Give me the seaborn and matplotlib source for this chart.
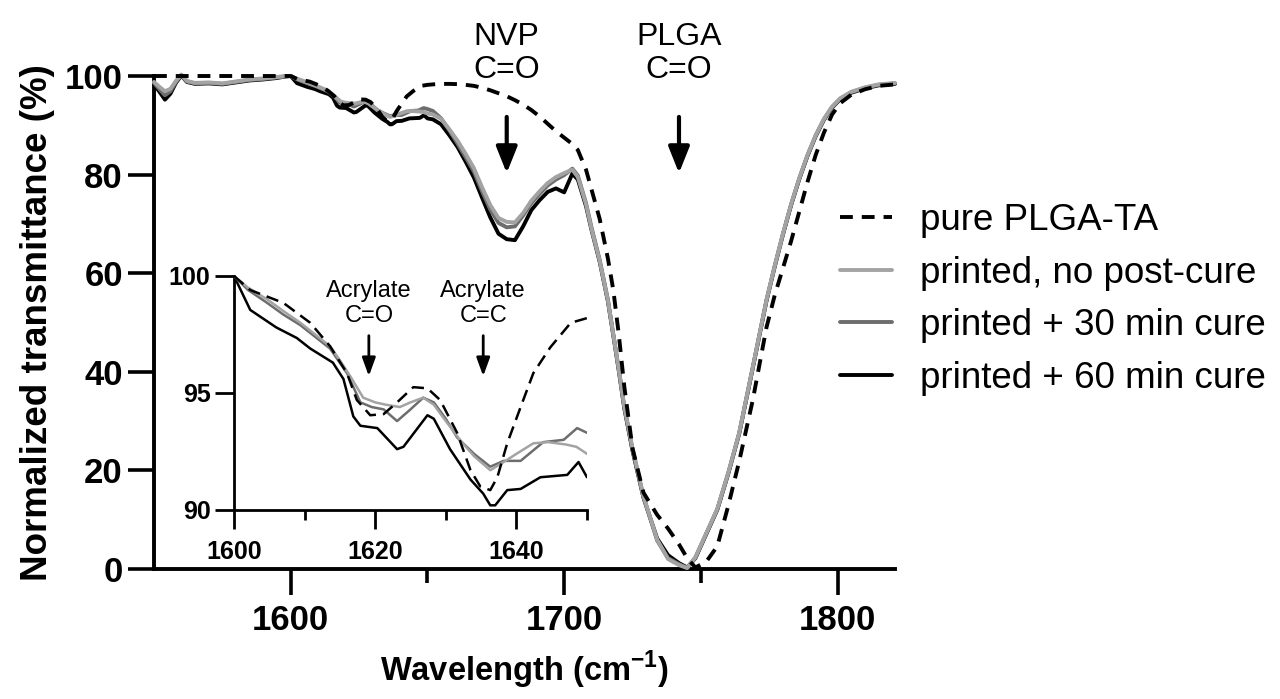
import matplotlib
matplotlib.use("Agg")
import matplotlib.pyplot as plt
import seaborn as sns
from matplotlib.patches import ArrowStyle

# ---------------- data ----------------
# shared wavenumber grid outside the inset range
wn_pre = [1550, 1552, 1554, 1556, 1558, 1560, 1562, 1565, 1570, 1575, 1580, 1585, 1590, 1595, 1598]
wn_post = [1652, 1655, 1658, 1661, 1664, 1667, 1670, 1673, 1676, 1679,
           1682, 1685, 1688, 1691, 1694, 1697, 1700, 1703, 1705, 1708,
           1710, 1713, 1716, 1718, 1720, 1722, 1725, 1729, 1734, 1738,
           1742, 1745, 1748, 1752, 1756, 1760, 1764, 1769, 1774, 1777,
           1780, 1783, 1786, 1789, 1792, 1795, 1798, 1801, 1805, 1810,
           1815, 1821]

# pure PLGA-TA (dashed)
pure_pre = [100, 100, 100, 100, 100, 100, 100, 100, 100, 100, 100, 100, 100, 100, 100]
pure_wn_in = [1600, 1602.3, 1607, 1610.8, 1613.6, 1616, 1617.4, 1619.3, 1621.2, 1623.1, 1625.4, 1627.4,
              1629.2, 1631.6, 1633.5, 1634.9, 1636.3, 1637.3, 1638.7, 1640.6, 1642.4, 1644.8, 1647.7, 1650]
pure_in = [100, 99.4, 98.85, 98.0, 97.0, 95.85, 94.7, 94.05, 94.1, 94.6, 95.25, 95.2,
           94.7, 93.3, 91.7, 91.0, 90.85, 91.4, 92.85, 94.4, 95.85, 96.95, 98.0, 98.2]
pure_post = [98.3, 98.4, 98.4, 98.35, 98.2, 98.0, 97.6, 97.1, 96.5, 95.9,
             95.1, 94.2, 93.1, 91.8, 90.3, 88.8, 87.5, 86.2, 85.0, 81.0,
             77.0, 71.0, 63.0, 56.5, 47.5, 37.0, 24.5, 15.5, 11.0, 8.2,
             5.0, 2.2, 0.3, 1.5, 4.6, 12.8, 21.8, 34.3, 49.0, 55.5,
             61.0, 66.5, 72.5, 78.5, 84.0, 88.5, 92.2, 94.5, 96.2, 97.3,
             98.0, 98.3]

# printed, no post-cure (light grey)
nocure_pre = [98.8, 97.8, 96.9, 97.4, 99.0, 100.3, 99.0, 98.6, 98.7, 98.5, 98.9, 99.3, 99.5, 99.8, 100.0]
nocure_wn_in = [1600, 1602, 1604.7, 1607, 1609.4, 1611.5, 1613.6, 1615, 1616.5, 1618.3, 1620, 1621.5, 1623.5,
                1625, 1626.8, 1628.3, 1630, 1632, 1634, 1636.3, 1638.2, 1640, 1642.4, 1644.5, 1647, 1648.5, 1650]
nocure_in = [100, 99.5, 99.0, 98.5, 98.0, 97.5, 97.0, 96.4, 95.7, 94.8, 94.6, 94.5, 94.4,
             94.6, 94.8, 94.5, 93.8, 93.0, 92.3, 91.7, 92.05, 92.4, 92.85, 92.9, 92.8, 92.7, 92.4]
nocure_post = [92.2, 91.3, 89.2, 86.9, 84.2, 81.3, 77.4, 73.8, 71.2, 70.4,
               70.3, 72.2, 74.7, 76.6, 78.3, 79.5, 80.3, 81.0, 79.5, 74.0,
               69.0, 62.5, 54.5, 47.5, 40.5, 33.0, 24.5, 14.8, 6.0, 2.0,
               0.8, 0.2, 2.4, 7.3, 12.2, 19.5, 27.6, 41.0, 54.6, 61.5,
               68.0, 74.0, 79.3, 84.0, 88.0, 91.3, 93.8, 95.5, 96.8, 97.7,
               98.3, 98.6]

# printed + 30 min cure (mid grey)
cure30_pre = [98.6, 97.3, 96.1, 96.9, 98.8, 100.2, 98.9, 98.5, 98.6, 98.4, 98.8, 99.2, 99.4, 99.7, 99.9]
cure30_wn_in = [1600, 1602, 1604.7, 1607, 1609.4, 1611.5, 1613.6, 1616, 1617.9, 1619.5, 1621.2, 1623.1,
                1625, 1626.8, 1628.3, 1630, 1631.6, 1634, 1636.3, 1638.2, 1640.6, 1643.8, 1646.7, 1648.6, 1650]
cure30_in = [100, 99.4, 98.85, 98.35, 97.9, 97.4, 96.9, 95.85, 94.6, 94.4, 94.3, 93.8,
             94.3, 94.8, 94.6, 93.9, 93.1, 92.4, 91.85, 92.1, 92.1, 92.9, 93.0, 93.5, 93.3]
cure30_post = [92.9, 91.4, 89.0, 86.3, 83.5, 80.6, 76.6, 72.9, 70.2, 69.3,
               69.5, 71.7, 74.2, 76.1, 77.8, 79.0, 79.9, 81.2, 79.8, 74.2,
               69.3, 62.7, 54.6, 47.5, 40.3, 32.8, 24.2, 14.6, 5.8, 2.2,
               1.0, 0.2, 2.3, 7.2, 12.1, 19.4, 27.5, 40.9, 54.5, 61.4,
               67.9, 73.9, 79.2, 83.9, 87.9, 91.2, 93.7, 95.4, 96.7, 97.6,
               98.2, 98.5]

# printed + 60 min cure (black)
cure60_pre = [98.3, 96.8, 95.2, 96.4, 98.6, 100.1, 98.8, 98.4, 98.5, 98.3, 98.7, 99.1, 99.3, 99.6, 99.9]
cure60_wn_in = [1600, 1602.3, 1606, 1608.9, 1610.8, 1614, 1615.5, 1616.9, 1617.9, 1620.3, 1623.1, 1624,
                1627.4, 1628.3, 1630.6, 1633.5, 1635.3, 1636.3, 1637, 1638.7, 1640.6, 1643.4, 1647.2, 1648.8, 1650]
cure60_in = [100, 98.55, 97.8, 97.35, 96.9, 96.3, 95.6, 94.0, 93.6, 93.5, 92.6, 92.7,
             94.05, 93.9, 92.6, 91.3, 90.7, 90.2, 90.2, 90.85, 90.9, 91.4, 91.5, 92.05, 91.4]
cure60_post = [91.2, 90.2, 88.0, 85.6, 82.6, 79.4, 75.3, 71.3, 68.0, 66.9,
               66.7, 69.5, 72.8, 74.8, 76.5, 77.2, 76.4, 80.2, 79.0, 73.6,
               68.8, 62.3, 54.3, 47.3, 40.2, 32.6, 24.0, 14.5, 6.2, 2.8,
               1.2, 0.3, 2.2, 7.1, 12.0, 19.3, 27.4, 40.8, 54.4, 61.3,
               67.8, 73.8, 79.1, 83.8, 87.8, 91.1, 93.6, 95.3, 96.6, 97.5,
               98.1, 98.4]

labels = ["pure PLGA-TA", "printed, no post-cure", "printed + 30 min cure", "printed + 60 min cure"]
colors = ["#000000", "#a3a3a3", "#6d6d6d", "#000000"]

main_xticks = [1600, 1700, 1800]
main_xminor = [1650, 1750]
main_yticks = [0, 20, 40, 60, 80, 100]
inset_xticks = [1600, 1620, 1640]
inset_xminor = [1610, 1630, 1650]
inset_yticks = [90, 95, 100]

# ---------------- style ----------------
sns.set_theme(style="ticks")
plt.rcParams["font.family"] = ["Liberation Sans", "DejaVu Sans"]
plt.rcParams["mathtext.fontset"] = "custom"
plt.rcParams["mathtext.rm"] = "Liberation Sans"
plt.rcParams["mathtext.bf"] = "Liberation Sans:bold"
plt.rcParams["axes.linewidth"] = 2.8
for k in ["text.color", "axes.labelcolor", "xtick.color", "ytick.color",
          "axes.edgecolor", "xtick.labelcolor", "ytick.labelcolor"]:
    plt.rcParams[k] = "black"

W, H = 1280, 699
fig = plt.figure(figsize=(W / 100, H / 100), dpi=100)
fig.patch.set_facecolor("white")

ax = fig.add_axes([154 / W, 1 - 569 / H, (895 - 154) / W, (569 - 76) / H])
ax_in = fig.add_axes([234 / W, 1 - 510 / H, (587 - 234) / W, (510 - 276) / H])

series = [
    ("pure", pure_pre, pure_wn_in, pure_in, pure_post),
    ("nocure", nocure_pre, nocure_wn_in, nocure_in, nocure_post),
    ("cure30", cure30_pre, cure30_wn_in, cure30_in, cure30_post),
    ("cure60", cure60_pre, cure60_wn_in, cure60_in, cure60_post),
]

dash_main = (0, (3.3, 2.3))
dash_in = (0, (5.0, 2.8))
handles = {}
draw_order = [3, 2, 1, 0]  # black, mid, light, dashed on top
for z, i in enumerate(draw_order):
    name, pre, wn_in, vin, post = series[i]
    xs = wn_pre + wn_in + wn_post
    ys = pre + vin + post
    ls = dash_main if i == 0 else "-"
    sns.lineplot(x=xs, y=ys, ax=ax, color=colors[i], lw=2.8, linestyle=ls,
                 sort=False, estimator=None, zorder=3 + z)
    line = ax.lines[-1]
    line.set_clip_on(False)
    handles[i] = line
    ls_in = dash_in if i == 0 else "-"
    sns.lineplot(x=wn_in, y=vin, ax=ax_in, color=colors[i], lw=1.8, linestyle=ls_in,
                 sort=False, estimator=None, zorder=3 + z)

# ---------------- main axes ----------------
ax.set_xlim(1550, 1821)
ax.set_ylim(0, 100)
ax.set_xticks(main_xticks)
ax.set_xticks(main_xminor, minor=True)
ax.set_yticks(main_yticks)
sns.despine(ax=ax)
for s in ["left", "bottom"]:
    ax.spines[s].set_linewidth(2.8)
    ax.spines[s].set_color("black")
ax.tick_params(axis="both", which="major", length=18.5, width=2.6, labelsize=25, color="black")
ax.tick_params(axis="x", which="minor", length=10, width=2.6, color="black")
ax.tick_params(axis="x", which="major", pad=7)
ax.tick_params(axis="y", which="major", pad=4)
for lab in ax.get_xticklabels() + ax.get_yticklabels():
    lab.set_fontweight("bold")
ax.set_xlabel(r"Wavelength (cm$^{\mathbf{-1}}$)", fontsize=23.5, fontweight="bold")
ax.set_ylabel("Normalized transmittance (%)", fontsize=26.5, fontweight="bold")
ax.xaxis.label.set_va("center")
ax.yaxis.label.set_va("center")
ax.xaxis.set_label_coords(0.5, (569 - 670) / 493)
ax.yaxis.set_label_coords((38 - 154) / 741, 0.5)
ax.set_facecolor("none")

head_main = ArrowStyle("-|>", head_length=0.5, head_width=0.2)
for xa, txt in [(1679, "NVP\nC=O"), (1742, "PLGA\nC=O")]:
    ax.annotate("", xy=(xa, 80.3), xytext=(xa, 91.7),
                arrowprops=dict(arrowstyle=head_main, mutation_scale=32, lw=3,
                                color="black", shrinkA=0, shrinkB=0),
                annotation_clip=False)
    ax.text(xa, 99.6, txt, ha="center", va="baseline", fontsize=23,
            linespacing=1.15, clip_on=False)

ax.legend([handles[0], handles[1], handles[2], handles[3]], labels,
          loc="upper left", bbox_to_anchor=(840 / W, 1 - 203 / H),
          bbox_transform=fig.transFigure, frameon=False, fontsize=26.5,
          handlelength=1.42, handletextpad=0.74, labelspacing=0.48,
          borderpad=0, borderaxespad=0)

# ---------------- inset ----------------
ax_in.set_xlim(1600, 1650)
ax_in.set_ylim(90, 100)
ax_in.set_xticks(inset_xticks)
ax_in.set_xticks(inset_xminor, minor=True)
ax_in.set_yticks(inset_yticks)
sns.despine(ax=ax_in)
for s in ["left", "bottom"]:
    ax_in.spines[s].set_linewidth(2.0)
    ax_in.spines[s].set_color("black")
ax_in.tick_params(axis="both", which="major", length=13.5, width=2.0, labelsize=18, color="black")
ax_in.tick_params(axis="x", which="minor", length=7, width=2.0, color="black")
ax_in.tick_params(axis="x", which="major", pad=8)
ax_in.tick_params(axis="y", which="major", pad=3.5)
for lab in ax_in.get_xticklabels() + ax_in.get_yticklabels():
    lab.set_fontweight("bold")
ax_in.set_facecolor("none")

head_in = ArrowStyle("-|>", head_length=0.55, head_width=0.2)
for xa, txt in [(1619.1, "Acrylate\nC=O"), (1635.3, "Acrylate\nC=C")]:
    ax_in.annotate("", xy=(xa, 95.72), xytext=(xa, 97.45),
                   arrowprops=dict(arrowstyle=head_in, mutation_scale=20, lw=2,
                                   color="black", shrinkA=0, shrinkB=0),
                   annotation_clip=False)
    ax_in.text(xa, 98.05, txt, ha="center", va="baseline", fontsize=17,
               linespacing=1.15, clip_on=False)

fig.savefig("out.png", dpi=100, facecolor="white")
